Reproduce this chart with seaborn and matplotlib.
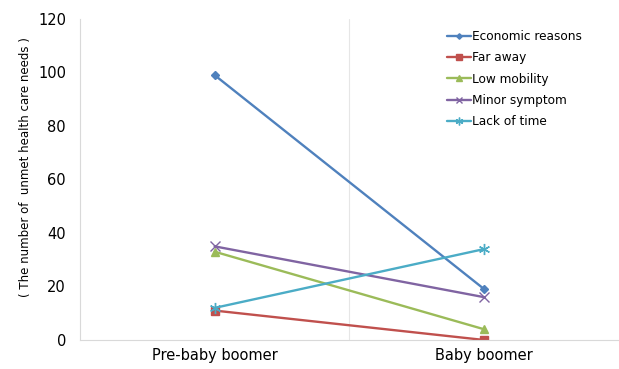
import matplotlib
matplotlib.use("Agg")
import matplotlib.pyplot as plt
import seaborn as sns
import pandas as pd

groups = ["Pre-baby boomer", "Baby boomer"]
reasons = ["Economic reasons", "Far away", "Low mobility", "Minor symptom", "Lack of time"]
economic = [99, 19]
far_away = [11, 0]
low_mobility = [33, 4]
minor_symptom = [35, 16]
lack_of_time = [12, 34]

colors = ["#4F81BD", "#C0504D", "#9BBB59", "#8064A2", "#4BACC6"]
markers = ["D", "s", "^", "x", (6, 2, 0)]
sizes = [4, 6, 6, 7, 8]

values = [economic, far_away, low_mobility, minor_symptom, lack_of_time]
rows = []
for r, v in zip(reasons, values):
    for i, g in enumerate(groups):
        rows.append({"group": g, "pos": i, "reason": r, "count": v[i]})
df = pd.DataFrame(rows)

sns.set_style("white")
plt.rcParams["font.family"] = ["DejaVu Sans"]
plt.rcParams["text.color"] = "#000000"
plt.rcParams["xtick.color"] = "#000000"
plt.rcParams["ytick.color"] = "#000000"
plt.rcParams["axes.labelcolor"] = "#000000"

fig = plt.figure(figsize=(6.19, 3.69), dpi=100)
ax = fig.add_axes([0.129, 0.0786, 0.871, 0.87])

for r, c, m, s in zip(reasons, colors, markers, sizes):
    sub = df[df["reason"] == r]
    sns.lineplot(data=sub, x="pos", y="count", ax=ax, color=c, marker=m,
                 markersize=s, linewidth=1.7, label=r, markeredgecolor=c,
                 markeredgewidth=1.0)

ax.set_xlim(-0.5, 1.5)
ax.set_ylim(0, 120)
ax.set_yticks(range(0, 121, 20))
ax.set_xticks([0, 1])
ax.set_xticklabels(groups, fontsize=10.5)
ax.tick_params(axis="y", labelsize=10.5, length=0, pad=10)
ax.tick_params(axis="x", length=0, pad=6)
ax.axvline(0.5, color="#E6E6E6", linewidth=0.8, zorder=0)
ax.set_xlabel("")
ax.set_ylabel("( The number of  unmet health care needs )", fontsize=8.5)
ax.yaxis.set_label_coords(-0.088, 0.54)

for side in ["top", "right"]:
    ax.spines[side].set_visible(False)
for side in ["left", "bottom"]:
    ax.spines[side].set_color("#D9D9D9")
    ax.spines[side].set_linewidth(0.8)

leg = ax.legend(loc="upper left", bbox_to_anchor=(0.672, 0.98), frameon=False,
                fontsize=8.7, handlelength=2.0, handletextpad=0.1,
                labelspacing=0.68, borderaxespad=0, markerscale=0.7)

fig.savefig("out.png", dpi=100)
